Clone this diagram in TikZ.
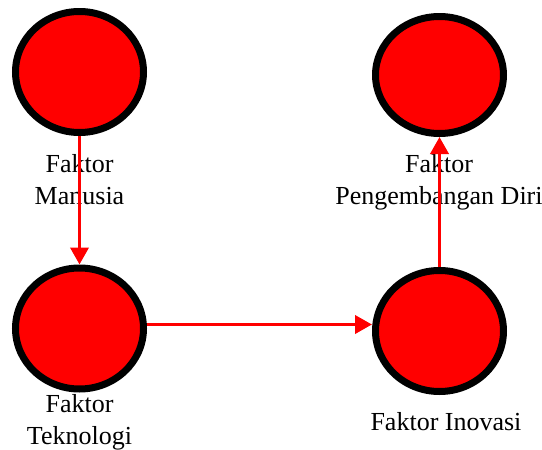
\documentclass[tikz,border=0pt]{standalone}
\usepackage{fontspec}
\setmainfont{Liberation Serif}
\usetikzlibrary{math,shapes.geometric,arrows.meta}

\begin{document}
\begin{tikzpicture}[x=1pt,y=-1pt,
    faktor/.style={ellipse,draw=black,fill=red,line width=7pt,minimum width=128pt,minimum height=121pt,inner sep=0pt},
    lbl/.style={align=center,anchor=north,inner sep=0pt,font=\fontsize{26}{32}\selectfont},
    flow/.style={draw=red,line width=3.8pt,-{Triangle[length=17pt,width=18pt]}}]
      \tikzmath{\xl = 79.5; \xr = 439.5; \yt = 72; \yb = 330;}
      \useasboundingbox (0,0) rectangle (542,450);
      \node[faktor] (manusia) at (\xl,\yt) {};
      \node[faktor,minimum height=117pt] (diri) at (\xr,\yt + 3) {};
      \node[faktor] (teknologi) at (\xl,\yb - 1.5) {};
      \node[faktor] (inovasi) at (\xr,\yb + 1) {};
      \node[lbl] (tmanusia) at (\xl,154) {Faktor\\Manusia};
      \node[lbl] (tdiri) at (439,154) {Faktor\\Pengembangan Diri};
      \node[lbl] (tteknologi) at (\xl,394) {Faktor\\Teknologi};
      \node[lbl] (tinovasi) at (446,412) {Faktor Inovasi};
      \draw[flow] (manusia) -- (teknologi);
      \draw[flow] ([yshift=4pt]teknologi.east) -- ([yshift=4pt]teknologi.east -| inovasi.west);
      \draw[flow] (inovasi) -- (diri);
    \end{tikzpicture}
\end{document}
